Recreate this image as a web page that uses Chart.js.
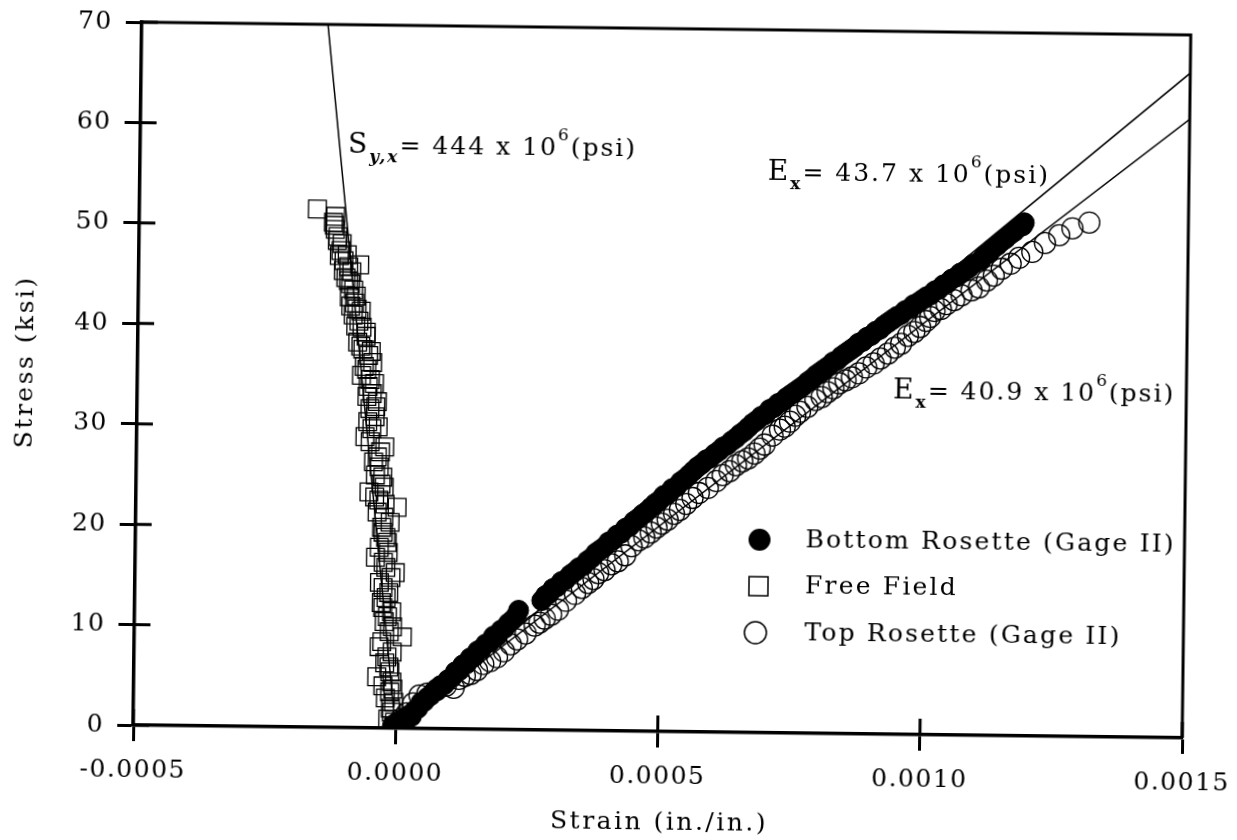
<!DOCTYPE html>
<html lang="en">
<head>
    <meta charset="UTF-8">
    <title>Stress vs Strain</title>
    <script src="https://cdn.jsdelivr.net/npm/chart.js"></script>
    <style>
        body { margin: 0; background: #fff; overflow: hidden; }
        /* the scanned original sits slightly skewed on the page */
        .wrap { width: 1237px; height: 840px; position: relative; transform: rotate(0.7deg); }
    </style>
</head>
<body>
<div class="wrap"><canvas id="chart"></canvas></div>

<script>
    // strain in micro in./in. (1e-6), stress in ksi
    const bottomStrain = [-6, 0, 4, 10, 14, 20, 25, 30, 36, 42, 48, 54, 60, 66, 72, 78, 85, 92, 99, 106,
        113, 120, 127, 134, 141, 148, 155, 162, 170, 178, 185, 192, 199, 206, 213, 220, 228, 232, 276, 283,
        290, 297, 305, 313, 321, 330, 338, 346, 354, 362, 370, 378, 386, 394, 402, 410, 418, 426, 434, 442,
        450, 458, 466, 474, 482, 490, 498, 506, 514, 522, 530, 538, 546, 554, 562, 570, 578, 586, 594, 602,
        610, 618, 626, 634, 642, 650, 658, 666, 674, 682, 690, 698, 706, 714, 722, 730, 738, 746, 754, 762,
        770, 778, 786, 794, 802, 810, 818, 826, 834, 842, 850, 858, 866, 874, 882, 890, 898, 906, 914, 922,
        930, 938, 946, 954, 962, 970, 978, 986, 994, 1002, 1010, 1018, 1026, 1034, 1042, 1050, 1058, 1066, 1074, 1082,
        1090, 1105, 1112, 1120, 1128, 1136, 1144, 1152, 1160, 1168, 1176, 1184, 1187];
    const bottomStress = [0.2, -0.2, 0.6, 0.4, 0.9, 0.8, 1.3, 1.2, 1.8, 2.0, 2.6, 2.7, 3.1, 3.3, 3.7, 3.8, 4.3, 4.4, 4.9, 5.1,
        5.7, 5.8, 6.4, 6.5, 7.1, 7.2, 7.8, 8.0, 8.5, 8.7, 9.3, 9.3, 9.9, 10.1, 10.6, 10.9, 11.4, 11.9, 12.9, 13.4,
        13.6, 14.1, 14.3, 14.8, 15.0, 15.5, 15.8, 16.2, 16.4, 16.9, 17.2, 17.7, 18.0, 18.3, 18.8, 19.0, 19.5, 19.7, 20.2, 20.4,
        20.9, 21.2, 21.6, 21.9, 22.3, 22.7, 23.0, 23.5, 23.7, 24.2, 24.4, 24.9, 25.2, 25.6, 26.0, 26.4, 26.7, 27.1, 27.3, 27.7,
        28.0, 28.4, 28.6, 29.0, 29.3, 29.7, 30.0, 30.4, 30.8, 31.1, 31.5, 31.7, 32.2, 32.4, 32.8, 33.0, 33.4, 33.7, 34.0, 34.3,
        34.6, 35.0, 35.3, 35.7, 36.0, 36.3, 36.6, 37.0, 37.2, 37.6, 37.9, 38.2, 38.5, 38.9, 39.1, 39.5, 39.7, 40.1, 40.3, 40.7,
        41.0, 41.3, 41.6, 41.8, 42.2, 42.4, 42.8, 43.0, 43.3, 43.6, 43.8, 44.2, 44.4, 44.8, 45.0, 45.4, 45.6, 46.0, 46.2, 46.5,
        46.9, 47.3, 47.8, 48.0, 48.5, 48.8, 49.2, 49.5, 49.9, 50.2, 50.6, 50.8, 51.1];

    const freeStrain = [-161, -126, -130, -126, -121, -113, -115, -103, -109, -100, -94, -79, -105, -96, -90, -98, -88, -83, -90, -79,
        -73, -65, -81, -71, -60, -52, -63, -73, -56, -60, -52, -42, -56, -46, -52, -65, -27, -41, -37, -44,
        -33, -56, -27, -37, -2, -27, -31, -23, -18, -42, -27, -4, -27, -21, -27, -18, -8, 11, -33, -18,
        -14, -37, -8, -12, -4, -8, -2, -4,
        -15, -10, -20, -6, -25, -12, -22, -8, -28, -14, -24, -10, -30, -16, -34, -12, -22, -35, -20, -28,
        -15, -40, -25, -45, -30, -48, -35, -55, -40, -60, -45, -62, -48, -68, -55, -75, -65, -85, -75, -95,
        -85, -100, -110, -118, -122, -128];
    const freeStress = [51.6, 50.9, 50.3, 49.6, 48.9, 48.2, 47.5, 47.1, 46.5, 45.9, 45.4, 46.1, 44.8, 44.2, 43.6, 42.9, 42.3, 41.7, 41.1, 40.5,
        39.9, 39.4, 38.4, 37.7, 37.1, 36.4, 35.7, 35.1, 34.7, 34.0, 33.3, 32.5, 31.8, 31.0, 29.8, 29.0, 28.0, 27.0, 26.0, 25.2,
        24.3, 23.5, 24.0, 22.7, 22.0, 21.0, 20.0, 19.0, 17.5, 17.0, 16.5, 15.5, 14.0, 13.0, 12.0, 11.1, 10.1, 9.1, 8.1, 7.1,
        6.1, 5.1, 4.6, 3.6, 2.6, 1.6, 0.6, 0.1,
        0.9, 2.0, 3.0, 3.9, 4.2, 5.6, 6.5, 7.6, 8.6, 9.6, 10.6, 11.6, 12.5, 13.5, 14.5, 15.0, 16.0, 18.0, 18.5, 19.5,
        20.5, 21.5, 22.3, 23.0, 25.0, 26.5, 27.5, 28.5, 30.0, 30.5, 32.0, 33.0, 34.3, 36.0, 37.5, 38.0, 39.0, 40.0, 41.5, 42.0,
        43.0, 44.5, 45.5, 47.0, 48.5, 50.0];

    const topStrain = [-2, 10, 21, 33, 45, 60, 78, 95, 110, 120, 131, 142, 154, 166, 179, 192, 205, 218, 230, 246,
        263, 272, 282, 294, 307, 322, 339, 352, 364, 374, 383, 395, 408, 420, 434, 446, 459, 470, 482, 493,
        503, 514, 526, 537, 549, 561, 573, 590, 606, 618, 631, 643, 655, 666, 678, 688, 697, 712, 726, 735,
        745, 755, 764, 778, 793, 805, 816, 827, 838, 850, 862, 875, 889, 903, 916, 930, 943, 955, 968, 980,
        991, 1002, 1010, 1018, 1030, 1041, 1055, 1069, 1088, 1102, 1117, 1130, 1145, 1162, 1178, 1203, 1227, 1254, 1279, 1311];
    const topStress = [0.3, 0.9, 1.5, 2.5, 3.3, 3.5, 3.9, 4.3, 4.1, 5.0, 5.3, 5.5, 5.9, 6.5, 6.8, 7.2, 7.8, 8.5, 9.0, 9.6,
        10.4, 10.7, 11.1, 11.5, 12.0, 12.9, 13.6, 14.2, 14.7, 15.1, 15.7, 16.0, 16.6, 16.9, 17.5, 18.4, 19.0, 19.3, 19.8, 20.3,
        20.7, 21.1, 21.7, 22.1, 22.7, 23.3, 23.8, 24.3, 25.0, 25.6, 26.0, 26.6, 27.0, 27.3, 27.8, 28.3, 28.7, 29.6, 30.2, 30.5,
        31.0, 31.6, 32.0, 32.5, 33.2, 33.5, 34.0, 34.4, 34.9, 35.2, 35.5, 35.9, 36.5, 36.9, 37.4, 37.9, 38.5, 38.9, 39.7, 40.1,
        40.6, 41.2, 41.6, 42.2, 42.4, 42.9, 43.3, 43.8, 44.3, 44.6, 45.3, 45.8, 46.5, 47.0, 47.6, 48.2, 49.1, 49.9, 50.6, 51.2];

    // fitted lines (end points)
    const fitSStrain = [0, -145], fitSStress = [0, 70];
    const fitBotStrain = [0, 1500], fitBotStress = [0, 66.2];
    const fitTopStrain = [0, 1500], fitTopStress = [0, 61.6];

    const xTicks = [-500, 0, 500, 1000, 1500];
    const xTickLabels = ['-0.0005', '0.0000', '0.0005', '0.0010', '0.0015'];
    const yTicks = [0, 10, 20, 30, 40, 50, 60, 70];

    const legendNames = ['Bottom Rosette (Gage II)', 'Free Field', 'Top Rosette (Gage II)'];

    const pts = (xs, ys) => xs.map((v, i) => ({x: v, y: ys[i]}));
    const FONT = '"DejaVu Serif", serif';

    function richText(ctx, x, y, parts) {
        for (const [t, k] of parts) {
            let dy = 0;
            if (k === 'big') ctx.font = '28px ' + FONT;
            else if (k === 'sub') { ctx.font = 'bold 17px ' + FONT; dy = 9; }
            else if (k === 'isub') { ctx.font = 'italic bold 17px ' + FONT; dy = 9; }
            else if (k === 'sup') { ctx.font = '17px ' + FONT; dy = -15; }
            else ctx.font = '25px ' + FONT;
            ctx.fillText(t, x, y + dy);
            x += ctx.measureText(t).width;
        }
    }

    const decor = {
        id: 'decor',
        beforeDraw(chart) {
            chart.ctx.letterSpacing = '1.5px';
        },
        afterDraw(chart) {
            const {ctx, chartArea: a, scales: {x, y}} = chart;
            ctx.save();
            ctx.strokeStyle = '#000';
            ctx.fillStyle = '#000';
            // top and right frame
            ctx.lineWidth = 3;
            ctx.beginPath();
            ctx.moveTo(a.left, a.top);
            ctx.lineTo(a.right, a.top);
            ctx.lineTo(a.right, a.bottom);
            ctx.stroke();
            // inner tick halves
            ctx.beginPath();
            xTicks.forEach(v => {
                const px = x.getPixelForValue(v);
                ctx.moveTo(px, a.bottom);
                ctx.lineTo(px, a.bottom - 16);
            });
            yTicks.forEach(v => {
                const py = y.getPixelForValue(v);
                ctx.moveTo(a.left, py);
                ctx.lineTo(a.left + 16, py);
            });
            ctx.stroke();

            ctx.letterSpacing = '2px';
            ctx.textBaseline = 'alphabetic';
            ctx.textAlign = 'left';
            // annotations
            richText(ctx, x.getPixelForValue(-104), y.getPixelForValue(57.3),
                [['S', 'big'], ['y,x', 'isub'], ['= 444 x 10', 'n'], ['6', 'sup'], ['(psi)', 'n']]);
            richText(ctx, x.getPixelForValue(697), y.getPixelForValue(55.1),
                [['E', 'big'], ['x', 'sub'], ['= 43.7 x 10', 'n'], ['6', 'sup'], ['(psi)', 'n']]);
            richText(ctx, x.getPixelForValue(941), y.getPixelForValue(33.5),
                [['E', 'big'], ['x', 'sub'], ['= 40.9 x 10', 'n'], ['6', 'sup'], ['(psi)', 'n']]);

            // legend
            ctx.letterSpacing = '2.2px';
            const lx = a.left + 624, ly = a.top + 510, row = 46.5;
            ctx.lineWidth = 1.5;
            ctx.beginPath();
            ctx.arc(lx, ly, 11, 0, Math.PI * 2);
            ctx.fill();
            ctx.strokeRect(lx - 10, ly + row - 9.5, 19, 19);
            ctx.beginPath();
            ctx.arc(lx - 3, ly + 2 * row, 11, 0, Math.PI * 2);
            ctx.stroke();
            ctx.font = '25px ' + FONT;
            ctx.textBaseline = 'middle';
            legendNames.forEach((n, i) => ctx.fillText(n, lx + 46, ly + i * row));

            // axis titles
            ctx.letterSpacing = '2.5px';
            ctx.textAlign = 'center';
            ctx.fillText('Strain (in./in.)', 664, 822);
            ctx.translate(25, 369);
            ctx.rotate(-Math.PI / 2);
            ctx.fillText('Stress (ksi)', 0, 0);
            ctx.restore();
        }
    };

    const tickGrid = {
        drawOnChartArea: false,
        drawTicks: true,
        tickLength: 16,
        tickWidth: 3,
        tickColor: '#000'
    };

    new Chart(document.getElementById('chart'), {
        type: 'scatter',
        data: {
            datasets: [
                {
                    label: 'S fit', type: 'line', data: pts(fitSStrain, fitSStress),
                    borderColor: '#000', borderWidth: 1.5, pointRadius: 0, order: 0
                },
                {
                    label: 'Bottom fit', type: 'line', data: pts(fitBotStrain, fitBotStress),
                    borderColor: '#000', borderWidth: 1.5, pointRadius: 0, order: 0
                },
                {
                    label: 'Top fit', type: 'line', data: pts(fitTopStrain, fitTopStress),
                    borderColor: '#000', borderWidth: 1.5, pointRadius: 0, order: 0
                },
                {
                    label: legendNames[0], data: pts(bottomStrain, bottomStress),
                    pointStyle: 'circle', pointRadius: 10, backgroundColor: '#000',
                    borderColor: '#000', borderWidth: 1, order: 1
                },
                {
                    label: legendNames[1], data: pts(freeStrain, freeStress),
                    pointStyle: 'rect', pointRadius: 12.5, backgroundColor: 'rgba(0,0,0,0)',
                    borderColor: '#000', borderWidth: 1.3, order: 2
                },
                {
                    label: legendNames[2], data: pts(topStrain, topStress),
                    pointStyle: 'circle', pointRadius: 10.5, backgroundColor: 'rgba(0,0,0,0)',
                    borderColor: '#000', borderWidth: 1.3, order: 3
                }
            ]
        },
        options: {
            responsive: true,
            maintainAspectRatio: false,
            animation: false,
            layout: {padding: {top: 28, right: 51, left: 0, bottom: 0}},
            plugins: {legend: {display: false}, tooltip: {enabled: false}},
            scales: {
                x: {
                    type: 'linear', min: -500, max: 1500,
                    afterFit: s => { s.height = 109; s.paddingLeft = 0; s.paddingRight = 0; },
                    afterBuildTicks: s => { s.ticks = xTicks.map(v => ({value: v})); },
                    ticks: {
                        color: '#000', padding: 14, maxRotation: 0,
                        font: {family: FONT, size: 25},
                        callback: v => xTickLabels[xTicks.indexOf(v)]
                    },
                    grid: tickGrid,
                    border: {display: true, color: '#000', width: 3.5}
                },
                y: {
                    type: 'linear', min: 0, max: 70,
                    afterFit: s => { s.width = 137; s.paddingTop = 0; s.paddingBottom = 0; },
                    afterBuildTicks: s => { s.ticks = yTicks.map(v => ({value: v})); },
                    ticks: {
                        color: '#000', padding: 13,
                        font: {family: FONT, size: 25}
                    },
                    grid: tickGrid,
                    border: {display: true, color: '#000', width: 3.5}
                }
            }
        },
        plugins: [decor]
    });
</script>
</body>
</html>
